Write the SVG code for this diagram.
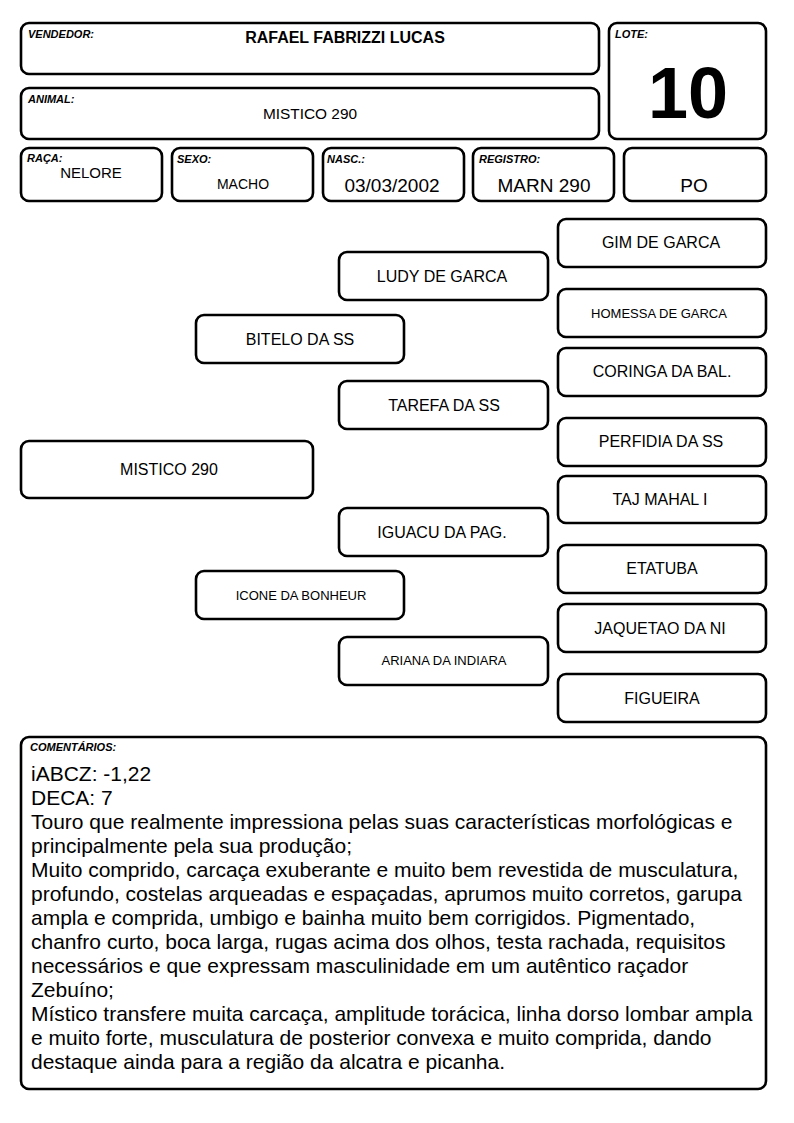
<svg xmlns="http://www.w3.org/2000/svg" width="794" height="1123" viewBox="0 0 794 1123">
<style>
rect.b{fill:#fff;stroke:#000;stroke-width:2.6}
text{font-family:"Liberation Sans",Arial,sans-serif;fill:#000}
.lb{font-size:11px;font-weight:bold;font-style:italic}
.n{font-size:16px;text-anchor:middle}
.s{font-size:13px;text-anchor:middle}
.v{font-size:19px;text-anchor:middle}
.c{font-size:21px}
</style>
<rect width="794" height="1123" fill="#fff"/>
<g id="vendedor"><rect class="b" x="21" y="23" width="578" height="51" rx="8"/><text class="lb" x="28" y="38">VENDEDOR:</text><text x="345" y="43" font-size="16" font-weight="bold" text-anchor="middle">RAFAEL FABRIZZI LUCAS</text></g>
<g id="animal"><rect class="b" x="21" y="88" width="578" height="51" rx="8"/><text class="lb" x="28" y="103">ANIMAL:</text><text x="310" y="119" font-size="15.4" text-anchor="middle">MISTICO 290</text></g>
<g id="lote"><rect class="b" x="609" y="23" width="157" height="116" rx="8"/><text class="lb" x="615" y="38">LOTE:</text><text x="688" y="118" font-size="72" font-weight="bold" text-anchor="middle">10</text></g>
<g id="raca"><rect class="b" x="21" y="148" width="141" height="53" rx="8"/><text class="lb" x="27" y="162">RAÇA:</text><text x="91" y="178" font-size="15" text-anchor="middle">NELORE</text></g>
<g id="sexo"><rect class="b" x="172" y="148" width="141" height="53" rx="8"/><text class="lb" x="177" y="163">SEXO:</text><text x="243" y="189" font-size="14" text-anchor="middle">MACHO</text></g>
<g id="nasc"><rect class="b" x="323" y="148" width="141" height="53" rx="8"/><text class="lb" x="327" y="163">NASC.:</text><text class="v" x="392" y="192" font-size="19.5">03/03/2002</text></g>
<g id="registro"><rect class="b" x="473" y="148" width="141" height="53" rx="8"/><text class="lb" x="479" y="163">REGISTRO:</text><text class="v" x="544" y="192">MARN 290</text></g>
<g id="po"><rect class="b" x="624" y="148" width="142" height="53" rx="8"/><text class="v" x="694" y="192">PO</text></g>
<g id="connectors"></g>
<g id="p-gim"><rect class="b" x="558" y="219" width="208" height="48" rx="8"/><text class="n" x="661" y="248">GIM DE GARCA</text></g>
<g id="p-ludy"><rect class="b" x="339" y="252" width="209" height="48" rx="8"/><text class="n" x="442" y="282">LUDY DE GARCA</text></g>
<g id="p-homessa"><rect class="b" x="558" y="289" width="208" height="48" rx="8"/><text class="s" x="659" y="318" font-size="13.3">HOMESSA DE GARCA</text></g>
<g id="p-bitelo"><rect class="b" x="196" y="315" width="208" height="48" rx="8"/><text class="n" x="300" y="345">BITELO DA SS</text></g>
<g id="p-coringa"><rect class="b" x="558" y="348" width="208" height="48" rx="8"/><text class="n" x="662" y="377">CORINGA DA BAL.</text></g>
<g id="p-tarefa"><rect class="b" x="339" y="381" width="209" height="48" rx="8"/><text class="n" x="444" y="411">TAREFA DA SS</text></g>
<g id="p-perfidia"><rect class="b" x="558" y="418" width="208" height="48" rx="8"/><text class="n" x="661" y="447">PERFIDIA DA SS</text></g>
<g id="p-mistico"><rect class="b" x="21" y="441" width="292" height="57" rx="8"/><text class="n" x="169" y="475">MISTICO 290</text></g>
<g id="p-taj"><rect class="b" x="558" y="476" width="208" height="47" rx="8"/><text class="n" x="660" y="505">TAJ MAHAL I</text></g>
<g id="p-iguacu"><rect class="b" x="339" y="508" width="209" height="48" rx="8"/><text class="n" x="442" y="538">IGUACU DA PAG.</text></g>
<g id="p-etatuba"><rect class="b" x="558" y="545" width="208" height="48" rx="8"/><text class="n" x="662" y="574">ETATUBA</text></g>
<g id="p-icone"><rect class="b" x="196" y="571" width="208" height="48" rx="8"/><text class="s" x="301" y="600">ICONE DA BONHEUR</text></g>
<g id="p-jaquetao"><rect class="b" x="558" y="604" width="208" height="48" rx="8"/><text class="n" x="660" y="634">JAQUETAO DA NI</text></g>
<g id="p-ariana"><rect class="b" x="339" y="637" width="209" height="48" rx="8"/><text class="s" x="444" y="665">ARIANA DA INDIARA</text></g>
<g id="p-figueira"><rect class="b" x="558" y="674" width="208" height="48" rx="8"/><text class="n" x="662" y="704">FIGUEIRA</text></g>
<g id="comentarios"><rect class="b" x="21" y="737" width="745" height="352" rx="8"/><text class="lb" x="30" y="751">COMENTÁRIOS:</text>
<text class="c" x="31" y="781">iABCZ: -1,22</text>
<text class="c" x="31" y="805">DECA: 7</text>
<text class="c" x="31" y="829">Touro que realmente impressiona pelas suas características morfológicas e</text>
<text class="c" x="31" y="853">principalmente pela sua produção;</text>
<text class="c" x="31" y="877">Muito comprido, carcaça exuberante e muito bem revestida de musculatura,</text>
<text class="c" x="31" y="901">profundo, costelas arqueadas e espaçadas, aprumos muito corretos, garupa</text>
<text class="c" x="31" y="925">ampla e comprida, umbigo e bainha muito bem corrigidos. Pigmentado,</text>
<text class="c" x="31" y="949">chanfro curto, boca larga, rugas acima dos olhos, testa rachada, requisitos</text>
<text class="c" x="31" y="973">necessários e que expressam masculinidade em um autêntico raçador</text>
<text class="c" x="31" y="997">Zebuíno;</text>
<text class="c" x="31" y="1021">Místico transfere muita carcaça, amplitude torácica, linha dorso lombar ampla</text>
<text class="c" x="31" y="1045">e muito forte, musculatura de posterior convexa e muito comprida, dando</text>
<text class="c" x="31" y="1069">destaque ainda para a região da alcatra e picanha.</text>
</g>
</svg>
